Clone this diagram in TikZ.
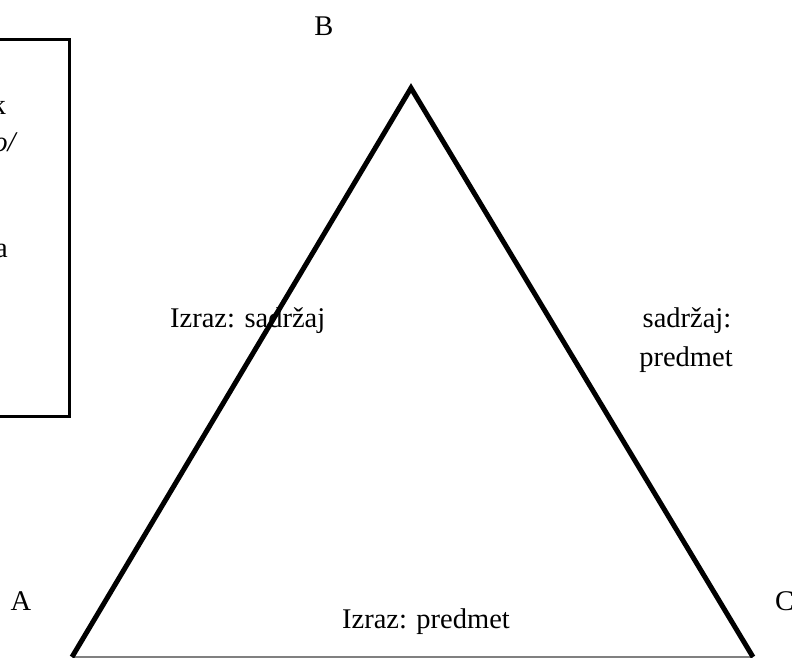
\documentclass[tikz,border=0pt]{standalone}
\usepackage{fontspec}
\setmainfont{Liberation Serif}
\begin{document}
\begin{tikzpicture}[x=1pt,y=-1pt,
  lbl/.style={font=\fontsize{28.5}{39}\selectfont, inner sep=0pt, anchor=base},
  edge/.style={line width=5pt, line join=miter},
  baseline/.style={line width=1.5pt, draw=black!50}]
  \useasboundingbox (0,0) rectangle (792,657);

  % legend frame on the left (continues past the page edge)
  \draw[line width=2.5pt] (-200,39.5) -- (69.5,39.5) -- (69.5,416.5) -- (-200,416.5);
  \node[lbl, anchor=base east] (f1) at (6,114) {k};
  \node[lbl, anchor=base east] (f2) at (18,151) {\textit{o/}};
  \node[lbl, anchor=base east] (f3) at (8,257) {a};

  % triangle corners
  \coordinate (tA) at (72,657);
  \coordinate (tB) at (411,88);
  \coordinate (tC) at (753,657);

  \draw[baseline] (tA) -- (tC);
  \draw[edge] (tA) -- (tB) -- (tC);

  % corner labels
  \node[lbl] (lB) at (324,35) {B};
  \node[lbl] (lA) at (21,610) {A};
  \node[lbl, anchor=base west] (lC) at (775,610) {C};

  % side labels
  \node[lbl, anchor=base west] (sAB) at (170,327) {Izraz: sadržaj};
  \node[lbl] (sBC1) at (687,327) {sadržaj:};
  \node[lbl] (sBC2) at (686,366) {predmet};
  \node[lbl] (sAC) at (426,628) {Izraz: predmet};
\end{tikzpicture}
\end{document}
